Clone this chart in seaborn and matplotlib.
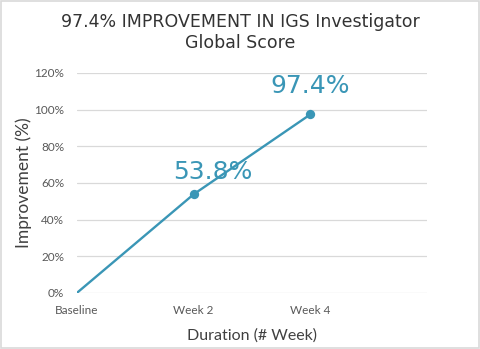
import matplotlib
matplotlib.use("Agg")
import matplotlib.pyplot as plt
import seaborn as sns
import pandas as pd
from matplotlib.ticker import FuncFormatter
from matplotlib.patches import Rectangle

categories = ["Baseline", "Week 2", "Week 4"]
improvement = [0.0, 53.8, 97.4]
label_text = ["", "53.8%", "97.4%"]
yticks = [0, 20, 40, 60, 80, 100, 120]

sns.set_theme(style="white")
plt.rcParams['font.family'] = ['Lato', 'DejaVu Sans']

df = pd.DataFrame({"Duration": categories, "Improvement": improvement})
df["pos"] = range(len(categories))

fig = plt.figure(figsize=(4.8, 3.49), dpi=100)
ax = fig.add_axes([0.160, 0.1605, 0.730, 0.6305])

color = "#3A96B6"
sns.lineplot(data=df, x="pos", y="Improvement", ax=ax, color=color, linewidth=1.7)
sns.scatterplot(data=df.iloc[1:], x="pos", y="Improvement", ax=ax, color=color,
                s=45, edgecolor=color, linewidth=0, zorder=5)

offsets = [(0, 0), (19, 22), (0, 28)]
for i, row in df.iterrows():
    if label_text[i]:
        ax.annotate(label_text[i], (row["pos"], row["Improvement"]),
                    xytext=offsets[i], textcoords="offset pixels",
                    ha="center", va="center", fontsize=18, color=color,
                    family=['DejaVu Sans'])

ax.set_xlim(0, 3)
ax.set_ylim(0, 120)
ax.set_xticks(list(df["pos"]))
ax.set_xticklabels(categories)
ax.set_yticks(yticks)
ax.yaxis.set_major_formatter(FuncFormatter(lambda v, p: f"{int(v)}%"))
ax.tick_params(axis="both", length=0, labelsize=8.5, colors="#595959")
ax.tick_params(axis="y", pad=9)
ax.tick_params(axis="x", pad=9)
ax.grid(axis="y", color="#D9D9D9", linewidth=0.9)
ax.set_axisbelow(True)
for s in ax.spines.values():
    s.set_visible(False)

ax.set_xlabel("Duration (# Week)", fontsize=11.5, color="#404040")
ax.set_ylabel("Improvement (%)", fontsize=12.5, color="#404040")
ax.xaxis.set_label_coords(0.5, -0.162)
ax.yaxis.set_label_coords(-0.128, 0.5)

fig.suptitle("97.4% IMPROVEMENT IN IGS Investigator\nGlobal Score", y=0.962,
             fontsize=12.5, color="#333333", family=['DejaVu Sans'], linespacing=1.2)

fig.patches.append(Rectangle((0.002, 0.003), 0.995, 0.993, transform=fig.transFigure,
                             fill=False, edgecolor="#D9D9D9", linewidth=1.2))

fig.savefig("out.png", dpi=100)
